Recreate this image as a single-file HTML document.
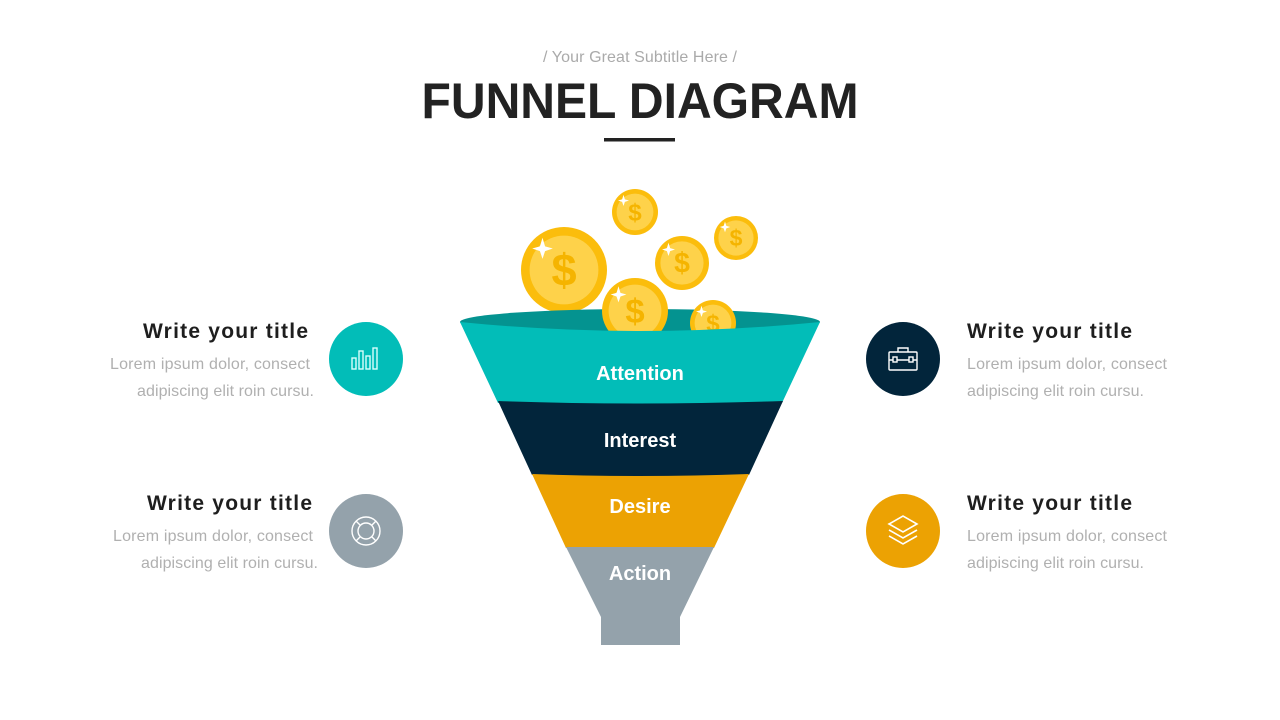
<!DOCTYPE html>
<html><head><meta charset="utf-8"><style>html,body{margin:0;padding:0;background:#fff}svg{display:block}</style></head><body>
<svg width="1280" height="720" viewBox="0 0 1280 720" xmlns="http://www.w3.org/2000/svg" font-family="Liberation Sans, sans-serif">
<defs>
<g id="coin">
<circle r="1" fill="#fbbd0c"/>
<circle r="0.8" fill="#fed24a"/>
<text x="0" y="0.36" font-size="1.05" font-weight="bold" fill="#f5b400" text-anchor="middle">$</text>
<path d="M-0.5,-0.75 L-0.44,-0.55 L-0.26,-0.5 L-0.44,-0.44 L-0.5,-0.26 L-0.56,-0.44 L-0.74,-0.5 L-0.56,-0.55Z" fill="#fff"/>
</g>
</defs>
<text x="640" y="62" font-size="16" fill="#aaa" text-anchor="middle" textLength="194">/ Your Great Subtitle Here /</text>
<text x="640" y="118" font-size="50" font-weight="bold" fill="#222" text-anchor="middle" textLength="437" lengthAdjust="spacingAndGlyphs">FUNNEL DIAGRAM</text>
<rect x="604" y="138" width="71" height="3.5" fill="#222"/>

<use href="#coin" transform="translate(635,212) scale(23)"/>
<use href="#coin" transform="translate(736,238) scale(22)"/>
<use href="#coin" transform="translate(682,263) scale(27)"/>
<use href="#coin" transform="translate(564,270) scale(43)"/>

<ellipse cx="640" cy="322" rx="180" ry="13" fill="#049390"/>
<clipPath id="cc"><rect x="0" y="0" width="1280" height="333"/></clipPath>
<g clip-path="url(#cc)">
<use href="#coin" transform="translate(635,311) scale(33)"/>
<use href="#coin" transform="translate(713,323) scale(23)"/>
</g>
<path d="M460,322 Q640,340 820,322 L782,403 Q640,408 498,403Z" fill="#02bdb8"/>
<path d="M498,401 Q640,406 783,401 L749,475 Q640,479 532,475Z" fill="#02253b"/>
<path d="M532,474 Q640,478 749,474 L714,548 L566,548Z" fill="#eca203"/>
<path d="M566,547 L714,547 L680,617 L680,645 L601,645 L601,617Z" fill="#94a2ab"/>
<g fill="#fff" font-weight="bold" font-size="20" text-anchor="middle">
<text x="640" y="380">Attention</text>
<text x="640" y="447">Interest</text>
<text x="640" y="513">Desire</text>
<text x="640" y="580">Action</text>
</g>

<circle cx="366" cy="359" r="37" fill="#02bdb8"/>
<g fill="none" stroke="#d8fffd" stroke-width="1.4">
<rect x="352" y="358" width="4" height="11"/><rect x="359" y="351" width="4" height="18"/><rect x="366" y="356" width="4" height="13"/><rect x="373" y="348" width="4" height="21"/>
</g>
<circle cx="366" cy="531" r="37" fill="#94a2ab"/>
<g fill="none" stroke="#fff" stroke-width="1.4"><circle cx="366" cy="531" r="14"/><circle cx="366" cy="531" r="8"/>
<path d="M360,525 L356,521 M372,525 L376,521 M360,537 L356,541 M372,537 L376,541"/></g>
<circle cx="903" cy="359" r="37" fill="#02253b"/>
<g fill="none" stroke="#fff" stroke-width="1.4"><rect x="889" y="352" width="28" height="18" rx="1"/><path d="M898,352 v-4 h10 v4 M889,360 h28"/><rect x="893" y="357" width="4" height="5" fill="#02253b"/><rect x="909" y="357" width="4" height="5" fill="#02253b"/></g>
<circle cx="903" cy="531" r="37" fill="#eca203"/>
<g fill="none" stroke="#fff" stroke-width="1.6"><path d="M889,524 L903,516 L917,524 L903,532Z"/><path d="M889,530 L903,538 L917,530"/><path d="M889,536 L903,544 L917,536"/></g>

<g font-size="21" font-weight="bold" fill="#1e1e1e">
<text x="143" y="338" textLength="165">Write  your  title</text>
<text x="147" y="510" textLength="165">Write  your  title</text>
<text x="967" y="338" textLength="165">Write  your  title</text>
<text x="967" y="510" textLength="165">Write  your  title</text>
</g>
<g font-size="16" fill="#b0b0b0">
<text x="110" y="369" textLength="200">Lorem ipsum dolor, consect</text>
<text x="137" y="396" textLength="177">adipiscing elit roin cursu.</text>
<text x="113" y="541" textLength="200">Lorem ipsum dolor, consect</text>
<text x="141" y="568" textLength="177">adipiscing elit roin cursu.</text>
<text x="967" y="369" textLength="200">Lorem ipsum dolor, consect</text>
<text x="967" y="396" textLength="177">adipiscing elit roin cursu.</text>
<text x="967" y="541" textLength="200">Lorem ipsum dolor, consect</text>
<text x="967" y="568" textLength="177">adipiscing elit roin cursu.</text>
</g>
</svg>
</body></html>
